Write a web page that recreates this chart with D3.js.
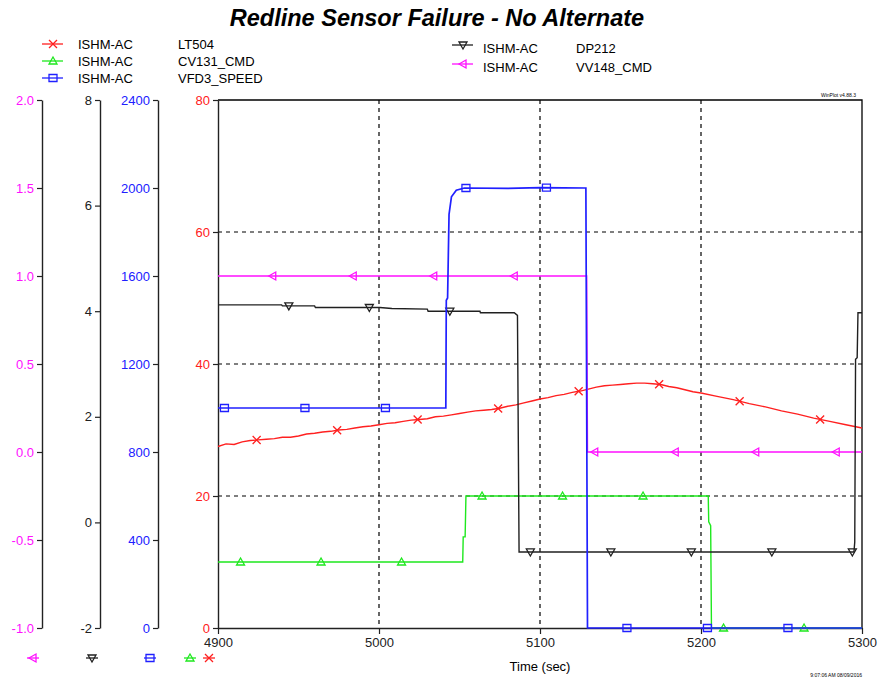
<!DOCTYPE html>
<html>
<head>
<meta charset="utf-8">
<script src="https://cdn.jsdelivr.net/npm/d3@7"></script>
<style>
  body { margin: 0; background: #fff; }
  svg { display: block; font-family: "Liberation Sans", Arial, sans-serif; }
</style>
</head>
<body>
<svg id="chart" width="881" height="680"></svg>
<script>
/*
 * Data variables (time in sec, value in the series' own units)
 */
var TITLE = 'Redline Sensor Failure - No Alternate',
    X_LABEL = 'Time (sec)',
    SOURCE = 'ISHM-AC',
    STAMP_TOP = 'WinPlot v4.88.3',
    STAMP_BOTTOM = '9:07:06 AM 08/09/2016';

var X_TICKS = [4900, 5000, 5100, 5200, 5300],
    RED_TICKS = [0, 20, 40, 60, 80],
    BLUE_TICKS = [0, 400, 800, 1200, 1600, 2000, 2400],
    BLACK_TICKS = [-2, 0, 2, 4, 6, 8],
    MAGENTA_TICKS = [-1.0, -0.5, 0.0, 0.5, 1.0, 1.5, 2.0];

var LT504 = [
    [4900, 27.5], [4905, 27.9], [4910, 27.8], [4915, 28.2], [4920, 28.4], [4925, 28.5],
    [4930, 28.6], [4935, 28.7], [4940, 28.9], [4945, 28.9], [4950, 29.1], [4955, 29.4],
    [4960, 29.5], [4965, 29.7], [4970, 29.8], [4975, 30.0], [4980, 30.1], [4985, 30.3],
    [4990, 30.5], [4995, 30.6], [5000, 30.8], [5005, 31.0], [5010, 31.1], [5015, 31.3],
    [5020, 31.5], [5025, 31.6], [5030, 31.7], [5035, 32.0], [5040, 32.1], [5045, 32.3],
    [5050, 32.5], [5055, 32.7], [5060, 32.9], [5065, 33.0], [5070, 33.1], [5075, 33.3],
    [5080, 33.6], [5085, 33.8], [5090, 34.1], [5095, 34.4], [5100, 34.7], [5105, 34.9],
    [5110, 35.2], [5115, 35.4], [5120, 35.7], [5125, 35.9], [5130, 36.2], [5135, 36.5],
    [5140, 36.7], [5145, 36.8], [5150, 36.9], [5155, 37.0], [5160, 37.1], [5165, 37.1],
    [5170, 37.0], [5175, 36.9], [5180, 36.6], [5185, 36.4], [5190, 36.1], [5195, 35.8],
    [5200, 35.6], [5210, 35.1], [5220, 34.6], [5230, 34.0], [5240, 33.5], [5250, 32.9],
    [5260, 32.4], [5270, 31.8], [5280, 31.3], [5290, 30.8], [5300, 30.3]
];

var CV131_CMD = [
    [4900, 10], [5052, 10], [5052.3, 13.8], [5053.5, 13.8], [5054, 20],
    [5204.5, 20], [5204.8, 16.1], [5206, 15.5], [5206.5, 0], [5300, 0]
];

var VFD3_SPEED = [
    [4900, 1000], [5041.5, 1000], [5041.8, 1490], [5042.6, 1500], [5043.5, 1880],
    [5045, 1960], [5048, 1990], [5053, 2000], [5080, 1998], [5100, 2002],
    [5128.5, 2000], [5129.5, 0], [5300, 0]
];

var DP212 = [
    [4900, 4.12], [4939.5, 4.12], [4940, 4.10], [4960, 4.10], [4960.5, 4.07],
    [5000.5, 4.07], [5008, 4.05], [5030, 4.04], [5030.5, 4.00], [5062.7, 4.00],
    [5063, 3.97], [5084, 3.97], [5086, 3.92], [5087, -0.56], [5295, -0.56],
    [5295.5, -0.37], [5296, 3.09], [5297, 3.12], [5297.5, 3.97], [5300, 3.97]
];

var VV148_CMD = [
    [4900, 1.0], [5129, 1.0], [5129.5, 0.0], [5300, 0.0]
];

var LT504_MARKS = [4924, 4974, 5024, 5074, 5124, 5174, 5224, 5274],
    CV131_MARKS = [4914, 4964, 5014, 5064, 5114, 5164, 5214, 5264],
    VFD3_MARKS = [4904, 4954, 5004, 5054, 5104, 5154, 5204, 5254],
    DP212_MARKS = [4944, 4994, 5044, 5094, 5144, 5194, 5244, 5294],
    VV148_MARKS = [4934, 4984, 5034, 5084, 5134, 5184, 5234, 5284];

/*
 * Style variables
 */
var RED = '#ff2020',
    GREEN = '#1ee81e',
    BLUE = '#2020ff',
    BLACK = '#202020',
    MAGENTA = '#ff10ff';

var PLOT_L = 218, PLOT_R = 862, PLOT_T = 100, PLOT_B = 628;

/*
 * Marker shapes
 */
var MARKERS = {
    cross: 'M-4,-4L4,4M-4,4L4,-4',
    triUp: 'M0,-4L4,3L-4,3Z',
    square: 'M-4,-3.5H4V3.5H-4Z',
    triDown: 'M-4,-3L4,-3L0,4Z',
    triLeft: 'M-4,0L3,-4L3,4Z'
};

var svg = d3.select('#chart');

var x = d3.scaleLinear().domain([4900, 5300]).range([PLOT_L, PLOT_R]),
    yRed = d3.scaleLinear().domain([0, 80]).range([PLOT_B, PLOT_T]),
    yBlue = d3.scaleLinear().domain([0, 2400]).range([PLOT_B, PLOT_T]),
    yBlack = d3.scaleLinear().domain([-2, 8]).range([PLOT_B, PLOT_T]),
    yMag = d3.scaleLinear().domain([-1, 2]).range([PLOT_B, PLOT_T]);

var series = [
    { name: 'CV131_CMD', data: CV131_CMD, marks: CV131_MARKS, y: yRed, color: GREEN, marker: 'triUp' },
    { name: 'LT504', data: LT504, marks: LT504_MARKS, y: yRed, color: RED, marker: 'cross' },
    { name: 'VV148_CMD', data: VV148_CMD, marks: VV148_MARKS, y: yMag, color: MAGENTA, marker: 'triLeft' },
    { name: 'DP212', data: DP212, marks: DP212_MARKS, y: yBlack, color: BLACK, marker: 'triDown' },
    { name: 'VFD3_SPEED', data: VFD3_SPEED, marks: VFD3_MARKS, y: yBlue, color: BLUE, marker: 'square' }
];

function byName(n) {
    return series.filter(function (s) { return s.name === n; })[0];
}

/**
 * value of a series at time t (for placing markers on the line)
 */
function valueAt(data, t) {
    var i = d3.bisector(function (d) { return d[0]; }).right(data, t);
    if (i <= 0) return data[0][1];
    if (i >= data.length) return data[data.length - 1][1];
    var a = data[i - 1], b = data[i];
    return a[1] + (b[1] - a[1]) * (t - a[0]) / (b[0] - a[0]);
}

function drawMarker(g, shape, color, cx, cy) {
    g.append('path')
        .attr('d', MARKERS[shape])
        .attr('transform', 'translate(' + cx + ',' + cy + ')')
        .attr('fill', 'none')
        .attr('stroke', color)
        .attr('stroke-width', 1.3);
}

/*
 * Title and stamps
 */
svg.append('text')
    .attr('x', 437).attr('y', 26)
    .attr('text-anchor', 'middle')
    .style('font-size', '23.5px')
    .style('font-weight', 'bold')
    .style('font-style', 'italic')
    .text(TITLE);

svg.append('text')
    .attr('x', 856).attr('y', 97)
    .attr('text-anchor', 'end')
    .style('font-size', '5px')
    .text(STAMP_TOP);

svg.append('text')
    .attr('x', 862).attr('y', 677)
    .attr('text-anchor', 'end')
    .style('font-size', '5px')
    .text(STAMP_BOTTOM);

/*
 * Legend
 */
var legendRows = [
    { s: 'LT504', x: 42, y: 44, tx: 78, nx: 178 },
    { s: 'CV131_CMD', x: 42, y: 61, tx: 78, nx: 178 },
    { s: 'VFD3_SPEED', x: 42, y: 78, tx: 78, nx: 178 },
    { s: 'DP212', x: 452, y: 45, tx: 483, nx: 576 },
    { s: 'VV148_CMD', x: 452, y: 64, tx: 483, nx: 576 }
];

var legend = svg.append('g');
legendRows.forEach(function (r) {
    var s = byName(r.s);
    legend.append('line')
        .attr('x1', r.x).attr('x2', r.x + 21)
        .attr('y1', r.y).attr('y2', r.y)
        .attr('stroke', s.color).attr('stroke-width', 1.3);
    drawMarker(legend, s.marker, s.color, r.x + 11, r.y);
    var ty = r.x > 400 ? r.y + 8 : r.y + 5;
    legend.append('text').attr('x', r.tx).attr('y', ty)
        .style('font-size', '13px').text(SOURCE);
    legend.append('text').attr('x', r.nx).attr('y', ty)
        .style('font-size', '13px').text(s.name);
});

/*
 * Grid
 */
var grid = svg.append('g');
grid.selectAll('.vgrid')
    .data(X_TICKS.slice(1, -1))
    .enter().append('line')
    .attr('x1', function (d) { return x(d); })
    .attr('x2', function (d) { return x(d); })
    .attr('y1', PLOT_T).attr('y2', PLOT_B)
    .attr('stroke', '#000').attr('stroke-width', 1.2)
    .attr('stroke-dasharray', '4,4');
grid.selectAll('.hgrid')
    .data(RED_TICKS.slice(1, -1))
    .enter().append('line')
    .attr('x1', PLOT_L).attr('x2', PLOT_R)
    .attr('y1', function (d) { return yRed(d); })
    .attr('y2', function (d) { return yRed(d); })
    .attr('stroke', '#000').attr('stroke-width', 1.2)
    .attr('stroke-dasharray', '4,4');

/*
 * Frame
 */
svg.append('path')
    .attr('d', 'M' + PLOT_L + ',' + PLOT_T + 'H' + PLOT_R + 'V' + PLOT_B)
    .attr('fill', 'none')
    .attr('stroke', '#000')
    .attr('stroke-width', 1.3);

/*
 * Axes
 */
function styleAxis(g, color) {
    g.select('.domain').attr('stroke', '#222').attr('stroke-width', 1.4);
    g.selectAll('.tick line').attr('stroke', '#222').attr('stroke-width', 1.2);
    g.selectAll('.tick text')
        .attr('fill', color)
        .style('font-size', '13px')
        .style('font-family', '"Liberation Sans", Arial, sans-serif');
}

var leftAxes = [
    { scale: yMag, ticks: MAGENTA_TICKS, at: 42, color: MAGENTA, fmt: function (d) { return d.toFixed(1); } },
    { scale: yBlack, ticks: BLACK_TICKS, at: 100, color: BLACK, fmt: function (d) { return String(d); } },
    { scale: yBlue, ticks: BLUE_TICKS, at: 158, color: BLUE, fmt: function (d) { return String(d); } },
    { scale: yRed, ticks: RED_TICKS, at: PLOT_L, color: RED, fmt: function (d) { return String(d); } }
];

leftAxes.forEach(function (a) {
    var g = svg.append('g')
        .attr('transform', 'translate(' + a.at + ',0)')
        .call(d3.axisLeft(a.scale)
            .tickValues(a.ticks)
            .tickFormat(a.fmt)
            .tickSize(5)
            .tickSizeOuter(0)
            .tickPadding(3));
    styleAxis(g, a.color);
});

var xg = svg.append('g')
    .attr('transform', 'translate(0,' + PLOT_B + ')')
    .call(d3.axisBottom(x)
        .tickValues(X_TICKS)
        .tickFormat(function (d) { return String(d); })
        .tickSize(6)
        .tickSizeOuter(0)
        .tickPadding(4));
styleAxis(xg, '#222');

svg.append('text')
    .attr('x', x(5100)).attr('y', 671)
    .attr('text-anchor', 'middle')
    .style('font-size', '13px')
    .text(X_LABEL);

/*
 * Series lines and markers
 */
var plot = svg.append('g');
series.forEach(function (s) {
    var line = d3.line()
        .x(function (d) { return x(d[0]); })
        .y(function (d) { return s.y(d[1]); });
    plot.append('path')
        .datum(s.data)
        .attr('d', line)
        .attr('fill', 'none')
        .attr('stroke', s.color)
        .attr('stroke-width', s.name === 'VFD3_SPEED' ? 1.7 : 1.4);
    s.marks.forEach(function (t) {
        drawMarker(plot, s.marker, s.color, x(t), s.y(valueAt(s.data, t)));
    });
});

/*
 * Axis keys under the left axes
 */
var keys = [
    { s: 'VV148_CMD', cx: 33 },
    { s: 'DP212', cx: 92 },
    { s: 'VFD3_SPEED', cx: 150 },
    { s: 'CV131_CMD', cx: 190 },
    { s: 'LT504', cx: 209 }
];
keys.forEach(function (k) {
    var s = byName(k.s);
    svg.append('line')
        .attr('x1', k.cx - 6).attr('x2', k.cx + 6)
        .attr('y1', 658).attr('y2', 658)
        .attr('stroke', s.color).attr('stroke-width', 1.3);
    drawMarker(svg, s.marker, s.color, k.cx, 658);
});
</script>
</body>
</html>
